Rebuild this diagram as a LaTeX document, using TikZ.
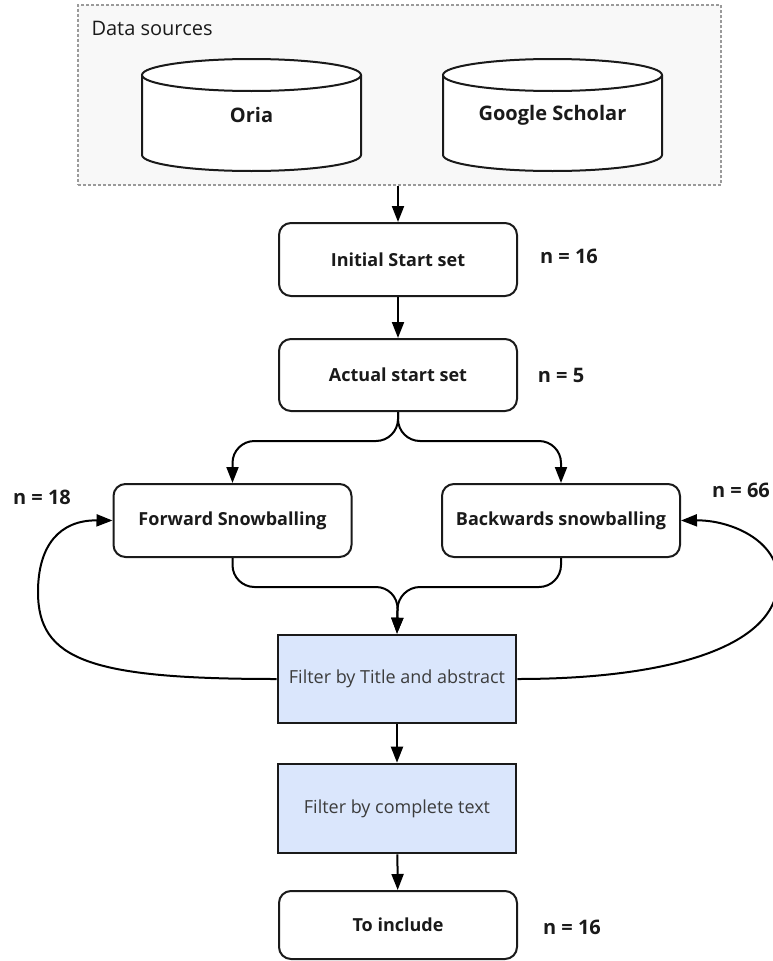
\documentclass[tikz,border=0pt]{standalone}
\usepackage{fontspec}
\setmainfont{Open Sans}
\usepackage{xcolor}
\usepackage{tikz}
\usetikzlibrary{positioning,arrows.meta,calc}
\definecolor{ink}{HTML}{1A1A1A}
\definecolor{groupfill}{HTML}{F8F8F8}
\definecolor{groupline}{HTML}{9A9A9A}
\definecolor{filterfill}{HTML}{DAE6FC}

\begin{document}
\begin{tikzpicture}[
    x=1pt, y=-1pt,
    font=\fontsize{18}{21}\selectfont,
    text=ink,
    box/.style={
        draw=ink,
        rounded corners=12pt,
        line width=2pt,
        minimum width=238pt,
        minimum height=72pt,
        inner sep=0pt,
        align=center,
        fill=white,
        font=\fontsize{18}{21}\selectfont\bfseries
    },
    filt/.style={
        draw=ink,
        line width=2.6pt,
        minimum width=238pt,
        minimum height=88pt,
        inner sep=0pt,
        align=center,
        fill=filterfill,
        text=ink!85
    },
    group/.style={
        draw=groupline,
        line width=2pt,
        dash pattern=on 3pt off 2pt,
        fill=groupfill,
        minimum width=643pt,
        minimum height=180pt,
        inner sep=0pt
    },
    db/.style={draw=ink, line width=2pt, fill=white},
    dblabel/.style={font=\fontsize{20}{23}\selectfont\bfseries},
    nlabel/.style={font=\fontsize{20}{23}\selectfont\bfseries},
    arr/.style={-{Triangle[length=16pt,width=12pt]}, line width=2pt, draw=black}
]
\useasboundingbox (0,0) rectangle (772,961);

% data sources
\node[group] (src) at (399.5,95) {};
\node[anchor=west, font=\fontsize{20}{23}\selectfont] (srclabel) at (88,28) {Data sources};

\draw[db] (142,75) -- (142,155) arc[start angle=180, end angle=0, x radius=109.5, y radius=16] -- (361,75);
\draw[db] (251.5,75) ellipse[x radius=109.5, y radius=16];
\node[dblabel] (oria) at (251.5,115) {Oria};

\draw[db] (443,75) -- (443,155) arc[start angle=180, end angle=0, x radius=109.5, y radius=16] -- (662,75);
\draw[db] (552.5,75) ellipse[x radius=109.5, y radius=16];
\node[dblabel] (scholar) at (552.5,115) {Google Scholar};

% main column
\node[box, minimum height=73pt] (init) at (398,259.5) {Initial Start set};
\node[box] (actual) at (398,375) {Actual start set};
\node[box, minimum height=73pt] (fwd) at (232.5,520.5) {Forward Snowballing};
\node[box, minimum height=73pt] (bwd) at (561,520.5) {Backwards snowballing};
\node[filt] (fltabs) at (397,679) {Filter by Title and abstract};
\node[filt, minimum height=89pt] (flttext) at (397,808.5) {Filter by complete text};
\node[box, minimum height=68pt] (incl) at (398,925) {To include};

% counts
\node[nlabel] (ninit) at (569,256) {n = 16};
\node[nlabel] (nact) at (561,375) {n = 5};
\node[nlabel] (nfwd) at (42,497) {n = 18};
\node[nlabel] (nbwd) at (741,490) {n = 66};
\node[nlabel] (nincl) at (572,927) {n = 16};

\coordinate (split) at (398,441);
\coordinate (merge) at (398,587);

\draw[arr] (src.south -| init.north) -- (init.north);
\draw[arr] (init) -- (actual);
\draw[arr, rounded corners=22pt] (actual.south) -- (split) -| (fwd.north);
\draw[arr, rounded corners=22pt] (actual.south) -- (split) -| (bwd.north);
\draw[arr, rounded corners=22pt] (fwd.south) |- (merge) -- (fltabs.north);
\draw[arr, rounded corners=22pt] (bwd.south) |- (merge) -- (fltabs.north);
\draw[arr] (fltabs) -- (flttext);
\draw[arr] (flttext) -- (incl);

% feedback loops
\draw[arr] (fltabs.west) .. controls (90,679) and (38,660) .. (38,592)
    .. controls (38,545) and (60,520) .. (fwd.west);
\draw[arr] (fltabs.east) .. controls (660,679) and (778,650) .. (778,580)
    .. controls (778,540) and (730,520) .. (bwd.east);

\end{tikzpicture}
\end{document}
